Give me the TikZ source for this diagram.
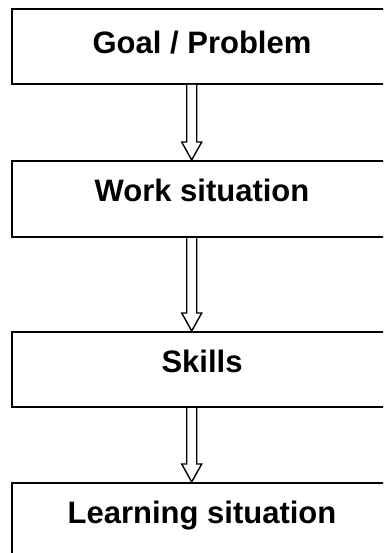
\documentclass[tikz,border=0pt]{standalone}
\usepackage{fontspec}
\setmainfont{Liberation Sans}
\usetikzlibrary{calc}
\tikzset{
  box/.style={draw, line width=2pt, rectangle, minimum width=380pt, inner sep=0pt,
    font=\fontsize{31}{36}\selectfont\bfseries, text height=22pt},
  arrowline/.style={draw, line width=1.4pt, line join=miter, fill=white}
}
\newcommand{\openarrow}[2]{%
  \draw[arrowline] ([xshift=-15.3pt]#1.south) -- ([xshift=-15.3pt,yshift=18pt]#2.north)
    -- ([xshift=-20.3pt,yshift=18pt]#2.north) -- ([xshift=-10.3pt]#2.north)
    -- ([xshift=-0.3pt,yshift=18pt]#2.north) -- ([xshift=-5.3pt,yshift=18pt]#2.north)
    -- ([xshift=-5.3pt]#1.south);}
\begin{document}
\begin{tikzpicture}[x=1pt,y=1pt]
\useasboundingbox (0,0) rectangle (383,-553);
\clip (0,0) rectangle (383,-553);
\fill[white] (0,0) rectangle (383,-553);
\node[box, minimum height=75pt, text depth=8pt] (goal) at (202,-46.5) {Goal / Problem};
\node[box, minimum height=76pt, text depth=17pt] (work) at (202,-199) {Work situation};
\node[box, minimum height=75pt, text depth=17pt] (skills) at (202,-369.5) {Skills};
\node[box, minimum height=75pt, text depth=17pt] (learn) at (202,-520.5) {Learning situation};
\openarrow{goal}{work}
\openarrow{work}{skills}
\openarrow{skills}{learn}
\end{tikzpicture}
\end{document}
